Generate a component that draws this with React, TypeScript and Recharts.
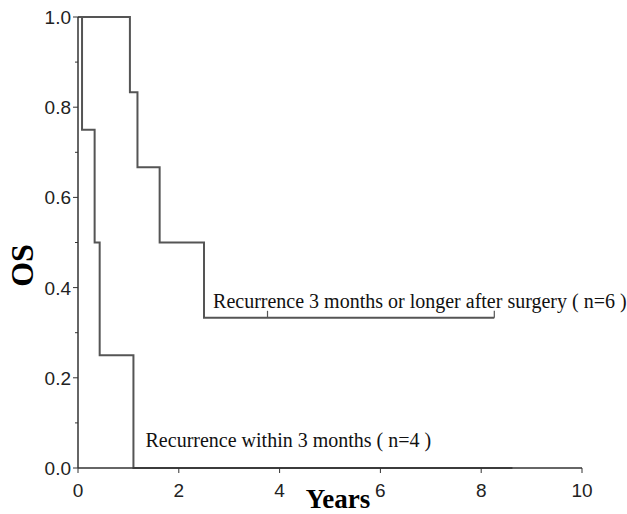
import React from 'react';
import { LineChart, Line, XAxis, YAxis, ReferenceDot } from 'recharts';

// Recurrence 3 months or longer after surgery (n=6)
const lateTimes = [0, 1.03, 1.18, 1.62, 2.5, 3.76, 8.26];
const lateOS = [1.0, 0.833, 0.667, 0.5, 0.333, 0.333, 0.333];
const lateCensored = [false, false, false, false, false, true, true];

// Recurrence within 3 months (n=4)
const earlyTimes = [0, 0.08, 0.33, 0.43, 1.1, 8.62];
const earlyOS = [1.0, 0.75, 0.5, 0.25, 0.0, 0.0];
const earlyCensored = [false, false, false, false, false, false];

const xTicks = [0, 2, 4, 6, 8, 10];
const yTicks = [0, 0.1, 0.2, 0.3, 0.4, 0.5, 0.6, 0.7, 0.8, 0.9, 1.0];
const yMajor = [0, 0.2, 0.4, 0.6, 0.8, 1.0];

const lateLabel = 'Recurrence 3 months or longer after surgery ( n=6 )';
const earlyLabel = 'Recurrence within 3 months ( n=4 )';

const lateData = lateTimes.map((t, i) => ({ t, s: lateOS[i], c: lateCensored[i] }));
const earlyData = earlyTimes.map((t, i) => ({ t, s: earlyOS[i], c: earlyCensored[i] }));

const LINE_COLOR = '#555';
const AXIS_COLOR = '#333';
const TICK_FONT = '"Liberation Sans", Arial, sans-serif';
const SERIF = '"Liberation Serif", "Times New Roman", serif';

const CensorDot = (props: any) => {
  const { cx, cy, payload, index } = props;
  if (!payload || !payload.c) return <g key={`d${index}`} />;
  return <line key={`d${index}`} x1={cx} x2={cx} y1={cy - 7} y2={cy} stroke={LINE_COLOR} strokeWidth={1.2} />;
};

const YTick = (props: any) => {
  const { x, y, payload } = props;
  const v = payload.value;
  const major = yMajor.some((m) => Math.abs(m - v) < 1e-6);
  return (
    <g>
      <line x1={x - (major ? 5 : 3)} x2={x} y1={y} y2={y} stroke={AXIS_COLOR} strokeWidth={1} />
      {major && (
        <text x={x - 7} y={y + 7} textAnchor="end" fontSize={19} fontFamily={TICK_FONT} fill="#222">
          {v.toFixed(1)}
        </text>
      )}
    </g>
  );
};

const XTick = (props: any) => {
  const { x, y, payload } = props;
  return (
    <g>
      <line x1={x} x2={x} y1={y} y2={y + 5} stroke={AXIS_COLOR} strokeWidth={1} />
      <text x={x} y={y + 29} textAnchor="middle" fontSize={19} fontFamily={TICK_FONT} fill="#222">
        {payload.value}
      </text>
    </g>
  );
};

const textShape = (label: string) => (p: any) => (
  <text x={p.cx} y={p.cy} fontSize={20} fontFamily={SERIF} fill="#111">
    {label}
  </text>
);

export default function App() {
  return (
    <div style={{ position: 'absolute', left: 0, top: 0 }}>
      <LineChart width={627} height={514} margin={{ top: 17, right: 45, bottom: 0, left: 0 }}>
        <XAxis
          dataKey="t"
          type="number"
          domain={[0, 10]}
          ticks={xTicks}
          height={46}
          tickSize={0}
          tickMargin={0}
          tick={<XTick />}
          stroke={AXIS_COLOR}
          strokeWidth={1.5}
          label={{
            content: (p: any) => {
              const vb = p.viewBox;
              return (
                <text x={vb.x + vb.width / 2 + 8} y={vb.y + 40} textAnchor="middle" fontSize={27} fontWeight="bold" fontFamily={SERIF} fill="#000">
                  Years
                </text>
              );
            },
          }}
        />
        <YAxis
          type="number"
          domain={[0, 1]}
          ticks={yTicks}
          width={78}
          tickSize={0}
          tickMargin={0}
          tick={<YTick />}
          stroke={AXIS_COLOR}
          strokeWidth={1.5}
          interval={0}
          label={{
            content: (p: any) => {
              const vb = p.viewBox;
              const cx = 22;
              const cy = vb.y + vb.height / 2 + 23;
              return (
                <text x={cx} y={cy} transform={`rotate(-90 ${cx} ${cy})`} textAnchor="middle" dominantBaseline="central" fontSize={32} fontWeight="bold" fontFamily={SERIF} fill="#000">
                  OS
                </text>
              );
            },
          }}
        />
        <Line
          data={earlyData}
          dataKey="s"
          type="stepAfter"
          stroke={LINE_COLOR}
          strokeWidth={2}
          dot={CensorDot}
          activeDot={false}
          isAnimationActive={false}
        />
        <Line
          data={lateData}
          dataKey="s"
          type="stepAfter"
          stroke={LINE_COLOR}
          strokeWidth={2}
          dot={CensorDot}
          activeDot={false}
          isAnimationActive={false}
        />
        <ReferenceDot x={2.68} y={0.355} r={0} shape={textShape(lateLabel)} ifOverflow="visible" />
        <ReferenceDot x={1.34} y={0.047} r={0} shape={textShape(earlyLabel)} ifOverflow="visible" />
      </LineChart>
    </div>
  );
}
